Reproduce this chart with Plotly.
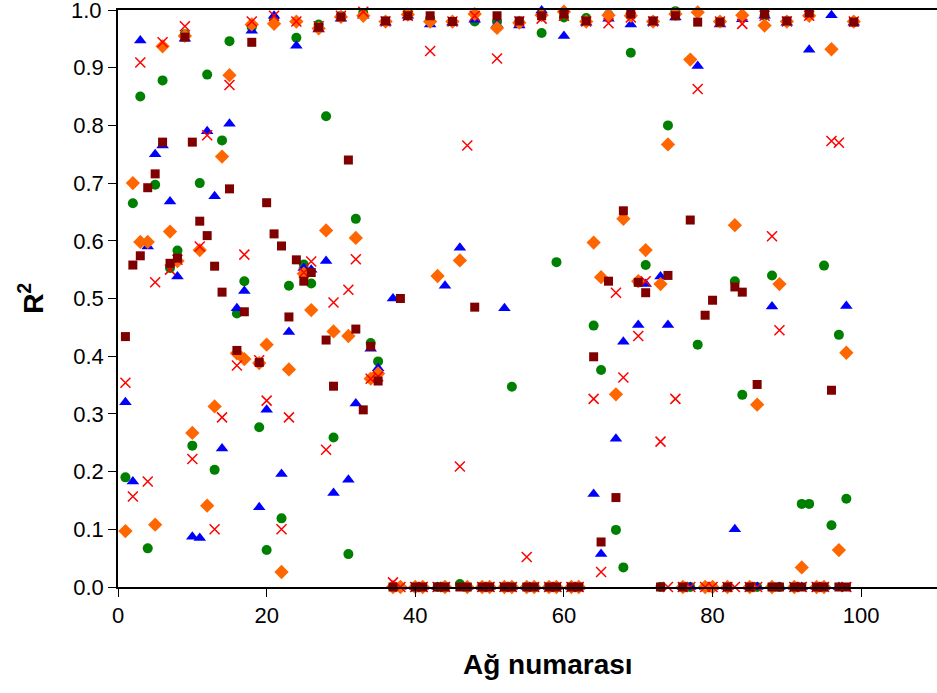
import plotly.graph_objects as go

network = list(range(1, 100))

green_r2 = [0.19, 0.665, 0.85, 0.067, 0.697, 0.878, 0.553, 0.583, 0.958, 0.245,
            0.70, 0.888, 0.203, 0.774, 0.946, 0.474, 0.53, 0.97, 0.277, 0.064,
            0.985, 0.119, 0.522, 0.952, 0.559, 0.526, 0.975, 0.816, 0.259, 0.99,
            0.057, 0.638, 0.995, 0.423, 0.391, 0.98, 0, 0, 0.995, 0,
            0, 0.985, 0, 0, 0.98, 0.005, 0, 0.98, 0, 0,
            0.98, 0, 0.347, 0.98, 0, 0, 0.96, 0, 0.563, 0.987,
            0, 0, 0.986, 0.453, 0.376, 0.992, 0.099, 0.034, 0.926, 0.528,
            0.558, 0.98, 0, 0.80, 0.998, 0, 0, 0.42, 0, 0,
            0.98, 0, 0.53, 0.333, 0, 0, 0.99, 0.54, 0, 0.98,
            0, 0.144, 0.144, 0, 0.557, 0.107, 0.437, 0.153, 0.98]

blue_r2 = [0.32, 0.183, 0.947, 0.59, 0.75, 0.765, 0.668, 0.538, 0.95, 0.087,
           0.085, 0.79, 0.677, 0.24, 0.803, 0.483, 0.513, 0.964, 0.138, 0.307,
           0.99, 0.196, 0.442, 0.938, 0.553, 0.55, 0.966, 0.565, 0.163, 0.985,
           0.186, 0.318, 0.99, 0.413, 0.379, 0.978, 0.5, 0, 0.99, 0,
           0, 0.975, 0, 0.522, 0.978, 0.588, 0, 0.983, 0, 0,
           0.975, 0.483, 0, 0.973, 0, 0, 0.999, 0, 0, 0.955,
           0, 0, 0.978, 0.161, 0.057, 0.985, 0.257, 0.425, 0.975, 0.454,
           0.525, 0.978, 0.538, 0.454, 0.987, 0, 0, 0.903, 0, 0,
           0.975, 0, 0.10, 0.984, 0, 0, 0.99, 0.486, 0, 0.978,
           0, 0, 0.931, 0, 0, 0.991, 0, 0.487, 0.978]

orange_r2 = [0.097, 0.70, 0.598, 0.598, 0.108, 0.937, 0.616, 0.565, 0.955, 0.267,
             0.584, 0.141, 0.313, 0.746, 0.887, 0.405, 0.395, 0.975, 0.388, 0.42,
             0.976, 0.026, 0.377, 0.98, 0.543, 0.48, 0.968, 0.618, 0.443, 0.988,
             0.435, 0.605, 0.99, 0.361, 0.37, 0.98, 0, 0, 0.992, 0,
             0, 0.98, 0.539, 0, 0.98, 0.566, 0, 0.993, 0, 0,
             0.969, 0, 0, 0.978, 0, 0, 0.991, 0, 0, 0.997,
             0, 0, 0.98, 0.597, 0.537, 0.991, 0.334, 0.638, 0.99, 0.53,
             0.584, 0.98, 0.525, 0.767, 0.993, 0, 0.914, 0.996, 0, 0,
             0.98, 0, 0.627, 0.991, 0, 0.316, 0.973, 0, 0.525, 0.98,
             0, 0.034, 0.99, 0, 0, 0.932, 0.064, 0.406, 0.98]

red_r2 = [0.354, 0.157, 0.909, 0.183, 0.528, 0.944, 0.55, 0.567, 0.972, 0.222,
          0.59, 0.783, 0.10, 0.294, 0.87, 0.384, 0.576, 0.98, 0.393, 0.323,
          0.99, 0.10, 0.294, 0.98, 0.545, 0.564, 0.972, 0.238, 0.493, 0.99,
          0.515, 0.568, 0.997, 0.361, 0.365, 0.98, 0.008, 0, 0.99, 0,
          0, 0.929, 0, 0, 0.98, 0.209, 0.765, 0.99, 0, 0,
          0.916, 0, 0, 0.98, 0.052, 0, 0.985, 0, 0, 0.99,
          0, 0, 0.98, 0.326, 0.026, 0.977, 0.51, 0.363, 0.987, 0.435,
          0.53, 0.98, 0.252, 0, 0.326, 0, 0, 0.863, 0, 0,
          0.98, 0, 0, 0.976, 0, 0, 0.99, 0.608, 0.445, 0.98,
          0, 0, 0.99, 0, 0, 0.773, 0.77, 0, 0.98]

darkred_r2 = [0.434, 0.558, 0.574, 0.692, 0.716, 0.771, 0.561, 0.57, 0.953, 0.771,
              0.634, 0.609, 0.556, 0.511, 0.69, 0.41, 0.477, 0.944, 0.389, 0.666,
              0.612, 0.591, 0.468, 0.567, 0.53, 0.545, 0.97, 0.428, 0.348, 0.988,
              0.74, 0.447, 0.307, 0.417, 0.357, 0.981, 0, 0.5, 0.99, 0,
              0, 0.99, 0, 0, 0.98, 0, 0, 0.485, 0, 0,
              0.99, 0, 0, 0.981, 0, 0, 0.99, 0, 0, 0.993,
              0, 0, 0.981, 0.399, 0.078, 0.53, 0.155, 0.652, 0.993, 0.528,
              0.51, 0.981, 0, 0.54, 0.99, 0, 0.636, 0.979, 0.471, 0.497,
              0.979, 0, 0.52, 0.511, 0, 0.351, 0.993, 0, 0, 0.981,
              0, 0, 0.995, 0, 0, 0.341, 0, 0, 0.979]

x_ticks = [0, 20, 40, 60, 80, 100]
y_ticks = [0.0, 0.1, 0.2, 0.3, 0.4, 0.5, 0.6, 0.7, 0.8, 0.9, 1.0]
y_tick_text = ["0.0", "0.1", "0.2", "0.3", "0.4", "0.5", "0.6", "0.7", "0.8", "0.9", ""]
y_top_label = "1.0"

series = [
    (green_r2, "circle", 10, "#008000"),
    (blue_r2, "triangle-up", 11, "#0000FF"),
    (orange_r2, "diamond", 11, "#FF6600"),
    (red_r2, "x-thin", 10, "#FF0000"),
    (darkred_r2, "square", 9, "#800000"),
]

fig = go.Figure()
for vals, sym, size, col in series:
    if sym == "x-thin":
        marker = dict(symbol=sym, size=size, line=dict(color=col, width=1.5), color=col)
    else:
        marker = dict(symbol=sym, size=size, color=col, line=dict(width=0))
    fig.add_trace(go.Scatter(x=network, y=vals, mode="markers", marker=marker,
                             cliponaxis=False, showlegend=False))

font_family = "Liberation Sans, Arial, sans-serif"
fig.update_layout(
    width=937, height=693,
    margin=dict(l=118, r=0, t=10, b=106),
    plot_bgcolor="white", paper_bgcolor="white",
    font=dict(family=font_family, size=22, color="black"),
    xaxis=dict(range=[0, 110.2], tickvals=x_ticks, showgrid=False, zeroline=False,
               showline=True, linecolor="black", linewidth=1.5, mirror=True,
               ticks="outside", ticklen=8, tickcolor="black", tickwidth=1,
               tickfont=dict(size=22, family=font_family)),
    yaxis=dict(range=[0, 1.0], tickvals=y_ticks, ticktext=y_tick_text, showgrid=False,
               zeroline=False, showline=True, linecolor="black", linewidth=1.5,
               ticks="outside", ticklen=8, tickcolor="black", tickwidth=1,
               tickfont=dict(size=22, family=font_family)),
    shapes=[
        dict(type="line", xref="paper", yref="y", x0=-8 / 819, x1=0, y0=1.0, y1=1.0,
             line=dict(color="black", width=1)),
    ],
    annotations=[
        dict(text=y_top_label, xref="paper", yref="y", x=-0.0175, y=1.0,
             showarrow=False, xanchor="right", yanchor="middle",
             font=dict(size=22, family=font_family)),
        dict(text="<b>Ağ numarası</b>", xref="paper", yref="paper",
             x=0.525, y=-0.135, showarrow=False, font=dict(size=28, family=font_family),
             xanchor="center", yanchor="middle"),
        dict(text="<b>R<sup>2</sup></b>", xref="paper", yref="paper",
             x=-0.107, y=0.5, showarrow=False, textangle=-90,
             font=dict(size=28, family=font_family), xanchor="center", yanchor="middle"),
    ],
)

fig.write_html("out.html",
               config={"displayModeBar": False},
               post_script="document.body.style.margin='0';document.body.style.overflow='hidden';")
